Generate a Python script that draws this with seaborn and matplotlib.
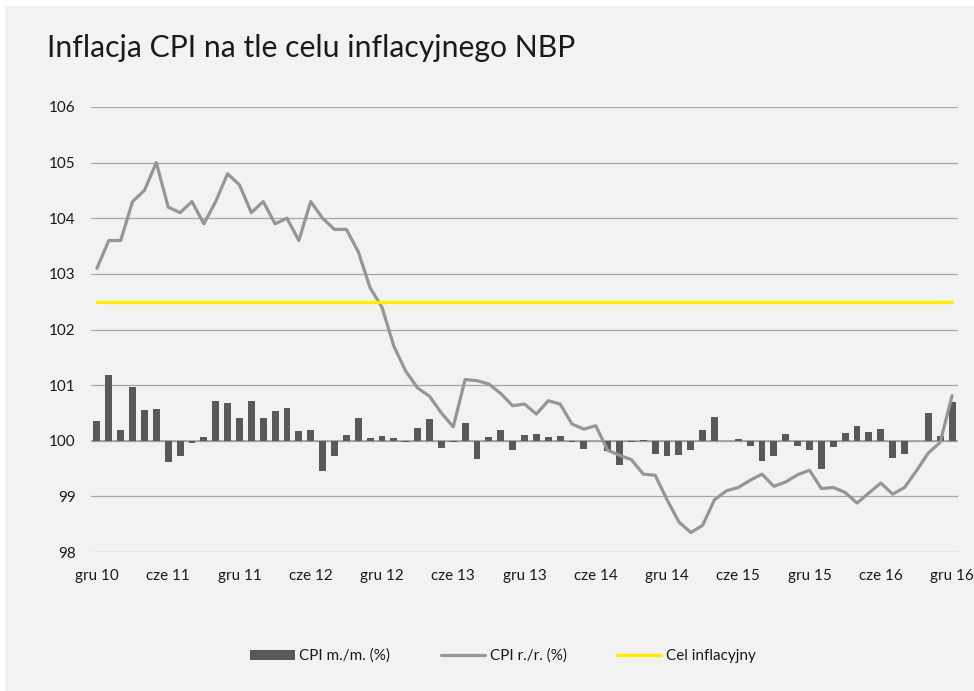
import numpy as np
import pandas as pd
import matplotlib.pyplot as plt
import seaborn as sns
from matplotlib.patches import Patch, Rectangle
from matplotlib.lines import Line2D

OUTPUT_IMAGE_PATH = 'out.png'

MONTHS_PL = ['sty', 'lut', 'mar', 'kwi', 'maj', 'cze',
             'lip', 'sie', 'wrz', 'paź', 'lis', 'gru']

# grudzien 2010 - grudzien 2016, miesiecznie
months = ['gru 10'] + [f'{m} {y}' for y in range(11, 17) for m in MONTHS_PL]

# CPI m./m. (%) - slupki rysowane od poziomu 100
cpi_mm = [0.36, 1.18, 0.20, 0.96, 0.55, 0.57, -0.39, -0.28, -0.04, 0.07,
          0.72, 0.67, 0.40, 0.72, 0.41, 0.53, 0.59, 0.17, 0.20, -0.54,
          -0.27, 0.11, 0.40, 0.05, 0.08, 0.05, -0.03, 0.23, 0.39, -0.13,
          -0.03, 0.32, -0.33, 0.06, 0.19, -0.16, 0.11, 0.12, 0.06, 0.08,
          -0.03, -0.14, 0.00, -0.19, -0.43, -0.02, 0.02, -0.23, -0.28, -0.25,
          -0.16, 0.20, 0.43, 0.00, 0.04, -0.10, -0.36, -0.27, 0.13, -0.09,
          -0.17, -0.51, -0.12, 0.14, 0.27, 0.15, 0.22, -0.31, -0.24, 0.00,
          0.50, 0.08, 0.70]

# CPI r./r. (%) jako indeks (poprzedni rok = 100)
cpi_rr = [103.1, 103.6, 103.6, 104.3, 104.5, 105.0, 104.2, 104.1, 104.3, 103.9,
          104.3, 104.8, 104.6, 104.1, 104.3, 103.9, 104.0, 103.6, 104.3, 104.0,
          103.8, 103.8, 103.4, 102.75, 102.4, 101.7, 101.25, 100.95, 100.8, 100.5,
          100.25, 101.1, 101.08, 101.02, 100.85, 100.63, 100.66, 100.48, 100.72, 100.66,
          100.3, 100.21, 100.27, 99.83, 99.74, 99.66, 99.4, 99.38, 98.94, 98.54,
          98.35, 98.48, 98.94, 99.1, 99.16, 99.29, 99.4, 99.18, 99.26, 99.39,
          99.47, 99.14, 99.16, 99.07, 98.88, 99.06, 99.24, 99.04, 99.16, 99.46,
          99.78, 99.97, 100.81]

TARGET = 102.5  # cel inflacyjny NBP (2,5%)

y_ticks = [98, 99, 100, 101, 102, 103, 104, 105, 106]

BAR_COLOR = '#595959'
LINE_COLOR = '#969696'
TARGET_COLOR = '#ffec00'
PANEL_COLOR = '#f2f2f2'


def build_frame():
    df = pd.DataFrame({'month': months, 'cpi_mm': cpi_mm, 'cpi_rr': cpi_rr})
    df['pos'] = np.arange(len(df))
    df['cel'] = TARGET
    return df


def create_chart(df):
    sns.set_style('white')
    plt.rcParams['font.family'] = ['Lato', 'DejaVu Sans']

    fig = plt.figure(figsize=(9.74, 6.91), dpi=100, facecolor='white')
    # jasnoszary panel z bialym marginesem u gory i z lewej
    fig.patches.append(Rectangle((5 / 974, 0), 1, 1 - 6 / 691,
                                 transform=fig.transFigure, facecolor=PANEL_COLOR,
                                 edgecolor='none', zorder=-10))

    ax = fig.add_axes([91 / 974, (691 - 552) / 691, (958 - 91) / 974, (552 - 107) / 691])
    ax.set_facecolor('none')
    ax.set_zorder(1)

    sns.barplot(data=df, x='pos', y='cpi_mm', bottom=100, color=BAR_COLOR,
                saturation=1, width=0.58, errorbar=None, linewidth=0, ax=ax, zorder=2)
    sns.lineplot(data=df, x='pos', y='cpi_rr', color=LINE_COLOR, linewidth=2.3,
                 ax=ax, zorder=3)
    sns.lineplot(data=df, x='pos', y='cel', color=TARGET_COLOR, linewidth=2.4,
                 ax=ax, zorder=4)

    ax.set_ylim(98, 106)
    ax.set_xlim(-0.5, len(df) - 0.5)
    ax.set_yticks(y_ticks)
    ax.set_yticklabels([str(t) for t in y_ticks])
    ax.yaxis.grid(True, color='#a6a6a6', linewidth=0.9, zorder=0)
    ax.set_axisbelow(True)
    ax.axhline(100, color='#999999', linewidth=1.1, zorder=1)

    tick_pos = df['pos'][::6]
    ax.set_xticks(tick_pos)
    ax.set_xticklabels(df['month'][::6])
    ax.tick_params(axis='y', length=0, pad=11, labelsize=11, labelcolor='#1a1a1a')
    ax.tick_params(axis='x', length=0, pad=12, labelsize=11, labelcolor='#1a1a1a')
    for lbl in ax.get_xticklabels():
        lbl.set_clip_on(False)

    ax.set_xlabel('')
    ax.set_ylabel('')
    sns.despine(ax=ax, left=True, bottom=True)

    fig.text(47 / 974, (691 - 57) / 691, 'Inflacja CPI na tle celu inflacyjnego NBP',
             fontsize=21.7, color='#1a1a1a', va='baseline', ha='left')

    handles = [
        Patch(facecolor=BAR_COLOR, edgecolor='none'),
        Line2D([], [], color=LINE_COLOR, linewidth=2.3),
        Line2D([], [], color=TARGET_COLOR, linewidth=2.4),
    ]
    labels = ['CPI m./m. (%)', 'CPI r./r. (%)', 'Cel inflacyjny']
    fig.legend(handles, labels, loc='center', bbox_to_anchor=(503 / 974, (691 - 656) / 691),
               ncol=3, frameon=False, fontsize=11, handlelength=2.9, handleheight=0.6,
               handletextpad=0.3, columnspacing=3.3, labelcolor='#1a1a1a')

    fig.savefig(OUTPUT_IMAGE_PATH, dpi=100, facecolor=fig.get_facecolor())
    plt.close(fig)


if __name__ == '__main__':
    create_chart(build_frame())
